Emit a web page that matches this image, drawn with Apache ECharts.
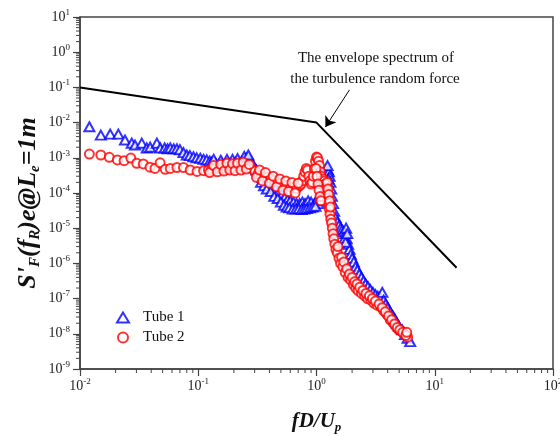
<!DOCTYPE html>
<html>
<head>
<meta charset="utf-8">
<script src="https://cdn.jsdelivr.net/npm/echarts@6/dist/echarts.min.js"></script>
<style>html,body{margin:0;padding:0;background:#fff;}#c{width:560px;height:436px;}</style>
</head>
<body>
<div id="c"></div>
<script>
// ---- data ----
const tube1X = [0.0120,0.0150,0.0180,0.0211,0.0240,0.0274,0.0292,0.0333,0.0367,0.0392,0.0447,0.0477,0.052,0.055,0.058,0.062,0.066,0.070,0.075,0.080,0.085,0.091,0.097,0.104,0.111,0.118,0.125,
  0.13,0.14,0.15,0.16,0.17,0.18,0.19,0.20,0.21,0.22,0.235,0.25,0.26,0.275,0.29,0.31,0.33,0.35,0.37,0.39,0.42,0.45,0.48,0.51,0.54,0.57,0.60,0.64,0.68,0.72,0.76,0.80,0.85,0.90,0.96,1.00,1.04,1.08,1.12,1.16,1.20,1.23,1.25,1.27,1.29,1.31,1.33,1.35,1.38,1.41,1.45,1.50,1.55,1.60,1.65,1.70,1.75,1.78,1.80,1.85,1.90,1.95,2.00,2.07,2.14,2.22,2.30,2.40,2.50,2.60,2.72,2.85,3.00,3.15,3.30,3.45,3.60,3.70,3.85,4.00,4.20,4.40,4.60,4.80,5.00,5.30,5.60,5.90,6.20];
const tube1Y = [7.6e-3,4.4e-3,4.7e-3,4.7e-3,3.2e-3,2.6e-3,2.3e-3,2.6e-3,1.9e-3,2.0e-3,2.6e-3,1.9e-3,1.9e-3,1.8e-3,1.9e-3,1.8e-3,1.8e-3,1.7e-3,1.4e-3,1.2e-3,1.15e-3,1.07e-3,1.0e-3,9.7e-4,9e-4,8.7e-4,8e-4,
  7.5e-4,7e-4,6.5e-4,6.5e-4,6.8e-4,7e-4,6.5e-4,7e-4,7.5e-4,7e-4,8e-4,9e-4,1e-3,8.5e-4,6.5e-4,4.5e-4,3.5e-4,2.8e-4,2.3e-4,2e-4,1.6e-4,1.3e-4,1.1e-4,9e-5,7.5e-5,6.5e-5,6e-5,5.5e-5,5e-5,5e-5,5.5e-5,5e-5,6e-5,5.5e-5,5e-5,6e-5,5e-5,6e-5,8e-5,1.2e-4,2e-4,3.5e-4,4.5e-4,4e-4,3e-4,2e-4,1.3e-4,8e-5,5e-5,3e-5,2e-5,1.5e-5,1.2e-5,1e-5,9e-6,8e-6,7e-6,1e-5,5e-6,3.5e-6,2.5e-6,1.8e-6,1.4e-6,1.1e-6,8e-7,6.5e-7,5e-7,4e-7,3.2e-7,2.6e-7,2.2e-7,1.8e-7,1.5e-7,1.3e-7,1.15e-7,1.1e-7,1.5e-7,9e-8,7e-8,5.5e-8,4.2e-8,3.3e-8,2.6e-8,2e-8,1.6e-8,1.3e-8,9.5e-9,7.5e-9,6e-9];
// second, overlapping run of Tube 1 (scatter of the band)
const tube1bX = [0.135,0.145,0.155,0.165,0.175,0.185,0.195,0.205,0.215,0.23,0.245,0.255,0.265,0.34,0.36,0.38,0.41,0.44,0.47,0.50,0.53,0.56,0.59,0.63,0.67,0.71,0.75,0.79,0.83,0.88,0.93,0.98,1.24,1.26,1.72,1.76,1.82];
const tube1bY = [9e-4,5e-4,8.5e-4,5e-4,9e-4,5.5e-4,9e-4,5.5e-4,9.5e-4,6e-4,1.1e-3,7e-4,1.2e-3,2e-4,1.6e-4,1.3e-4,1.1e-4,8e-5,7e-5,5.5e-5,4.5e-5,4e-5,3.8e-5,3.5e-5,3.5e-5,3.6e-5,3.4e-5,3.5e-5,3.6e-5,3.8e-5,4e-5,4.2e-5,6e-4,2.5e-4,5e-6,4e-6,7e-6];

const tube2X = [0.0120,0.0150,0.0177,0.0207,0.0236,0.0269,0.0302,0.0343,0.0391,0.043,0.0476,0.0525,0.058,0.066,0.075,0.0855,0.0977,0.111,0.122,
  0.13,0.14,0.15,0.16,0.17,0.18,0.19,0.20,0.21,0.22,0.235,0.25,0.265,0.28,0.30,0.32,0.34,0.36,0.385,0.41,0.44,0.47,0.50,0.53,0.56,0.60,0.64,0.68,0.72,0.74,0.76,0.78,0.80,0.82,0.84,0.86,0.88,0.90,0.92,0.94,0.96,0.98,1.00,1.02,1.04,1.06,1.08,1.10,1.12,1.14,1.16,1.18,1.20,1.22,1.24,1.26,1.28,1.30,1.32,1.34,1.36,1.38,1.40,1.43,1.46,1.50,1.55,1.60,1.67,1.75,1.85,1.94,2.05,2.15,2.25,2.40,2.55,2.70,2.88,3.05,3.25,3.50,3.70,3.95,4.20,4.45,4.70,4.95,5.20,5.50,5.90];
const tube2Y = [1.28e-3,1.2e-3,1.03e-3,8.7e-4,8.3e-4,9.8e-4,7e-4,6.7e-4,5.4e-4,5e-4,7.2e-4,4.7e-4,5e-4,5.3e-4,5.3e-4,4.5e-4,4.1e-4,4.3e-4,4.5e-4,
  4.8e-4,5e-4,5.2e-4,5e-4,5.3e-4,5.5e-4,5.2e-4,5.5e-4,5.8e-4,5.5e-4,5.8e-4,6e-4,5.5e-4,5e-4,4.2e-4,3.5e-4,3.2e-4,3e-4,2.8e-4,2.5e-4,2.3e-4,2.1e-4,1.9e-4,1.7e-4,1.6e-4,1.5e-4,1.4e-4,1.35e-4,1.6e-4,1.8e-4,2.2e-4,3e-4,4e-4,5e-4,4.5e-4,3e-4,2.2e-4,1.8e-4,2e-4,3e-4,5e-4,8e-4,1.05e-3,1e-3,8e-4,6e-4,4e-4,3e-4,2.2e-4,2.5e-4,2.2e-4,1.8e-4,1.4e-4,1e-4,7e-5,5e-5,3.5e-5,2.5e-5,1.8e-5,1.4e-5,1e-5,7e-6,5e-6,3.5e-6,2.5e-6,2e-6,1.4e-6,1e-6,8e-7,5.5e-7,4e-7,3.4e-7,2.5e-7,2e-7,1.7e-7,1.4e-7,1.2e-7,1e-7,9e-8,7.5e-8,6.5e-8,5.8e-8,4.5e-8,3.5e-8,2.5e-8,2e-8,1.6e-8,1.3e-8,1.2e-8,1e-8,8e-9];
// second, overlapping run of Tube 2 (scatter of the band)
const tube2bX = [0.125,0.135,0.145,0.155,0.165,0.175,0.185,0.195,0.205,0.215,0.23,0.24,0.255,0.27,0.31,0.33,0.35,0.37,0.40,0.43,0.46,0.49,0.52,0.55,0.58,0.62,0.66,0.70,0.99,1.01,1.03,1.05,1.07,1.09,1.23,1.25,1.27,1.29,1.31,1.52,1.63,1.70,1.80,1.90,2.00,2.10,2.20,2.32,2.47,2.62,2.80,2.97,3.15,3.38,3.60,3.82,4.07,4.32,4.57,4.82,5.07,5.35,5.70,5.80];
const tube2bY = [3.8e-4,6e-4,4e-4,6.5e-4,4.2e-4,7e-4,4.5e-4,6.8e-4,4.3e-4,7e-4,4.5e-4,7.5e-4,4.8e-4,6.5e-4,2.8e-4,4.5e-4,2.2e-4,3.8e-4,1.9e-4,3e-4,1.5e-4,2.5e-4,1.2e-4,2.2e-4,1.1e-4,2e-4,1e-4,1.9e-4,5e-4,3e-4,1.8e-4,1.2e-4,8e-5,6e-5,2e-4,1.3e-4,9e-5,6e-5,4e-5,3e-6,1.5e-6,1.1e-6,7e-7,5e-7,4e-7,3e-7,2.6e-7,2.1e-7,1.7e-7,1.4e-7,1.2e-7,1e-7,8.5e-8,7e-8,5.5e-8,4.2e-8,3.2e-8,2.5e-8,1.9e-8,1.5e-8,1.3e-8,1.1e-8,9e-9,1.1e-8];

const envelopeX = [0.01, 1.0, 15.3];
const envelopeY = [0.1, 0.01, 7.5e-7];
const arrowFrom = [1.9, 0.085];
const arrowTo = [1.19, 0.0075];

const seriesNames = ['Tube 1', 'Tube 2'];
const annotationLines = ['The envelope spectrum of', 'the turbulence random force'];
const xMin = 1e-2, xMax = 1e2, yMin = 1e-9, yMax = 1e1;

// ---- build ----
const zip = (a, b) => a.map((v, i) => [v, b[i]]);
const serif = '"Liberation Serif","Times New Roman",serif';

const minorData = [];
for (let k = -2; k <= 1; k++) for (let m = 2; m <= 9; m++) minorData.push([m * Math.pow(10, k), yMin, 0]);
for (let k = -9; k <= 0; k++) for (let m = 2; m <= 9; m++) minorData.push([xMin, m * Math.pow(10, k), 1]);

const labelFmt = v => {
  const e = Math.round(Math.log10(v));
  return '{b|10}{s|' + e + '}';
};
const labelRich = {
  b: { fontFamily: serif, fontSize: 14, color: '#222' },
  s: { fontFamily: serif, fontSize: 9, color: '#222', padding: [0, 0, 9, 0] }
};
const axisColor = '#444';
const titleFont = { fontFamily: serif, fontWeight: 'bold', fontStyle: 'italic', fill: '#111' };

const chart = echarts.init(document.getElementById('c'), null, { renderer: 'canvas' });
chart.setOption({
  animation: false,
  backgroundColor: '#fff',
  grid: { left: 80, right: 7, top: 17, bottom: 67, outerBoundsMode: 'none', containLabel: false, show: true, borderColor: axisColor, borderWidth: 1.5, backgroundColor: 'transparent' },
  xAxis: {
    type: 'log', min: xMin, max: xMax, logBase: 10, splitNumber: 4,
    axisLine: { show: true, lineStyle: { color: axisColor, width: 1.5 } },
    axisTick: { show: true, length: 7, lineStyle: { color: axisColor, width: 1.2 } },
    splitLine: { show: false },
    axisLabel: { formatter: labelFmt, rich: labelRich, margin: 8, showMinLabel: true, showMaxLabel: true },
    name: '{t|fD/U}{p|p}', nameLocation: 'middle', nameGap: 40,
    nameTextStyle: {
      rich: {
        t: { fontFamily: serif, fontSize: 21, fontWeight: 'bold', fontStyle: 'italic', color: '#111' },
        p: { fontFamily: serif, fontSize: 13, fontWeight: 'bold', fontStyle: 'italic', color: '#111', padding: [12, 0, 0, 0] }
      }
    }
  },
  yAxis: {
    type: 'log', min: yMin, max: yMax, logBase: 10, splitNumber: 10,
    axisLine: { show: true, lineStyle: { color: axisColor, width: 1.5 } },
    axisTick: { show: true, length: 7, lineStyle: { color: axisColor, width: 1.2 } },
    splitLine: { show: false },
    axisLabel: { formatter: labelFmt, rich: labelRich, margin: 10, showMinLabel: true, showMaxLabel: true }
  },
  legend: {
    orient: 'vertical', left: 116, top: 310, padding: 0, itemGap: 5, itemWidth: 12, itemHeight: 10,
    data: seriesNames,
    textStyle: { fontFamily: serif, fontSize: 15, color: '#111', padding: [0, 0, 0, 9] }
  },
  graphic: [
    { type: 'text', x: 376, y: 58, style: { text: annotationLines[0], font: '15px ' + serif, fill: '#111', align: 'center', verticalAlign: 'middle' } },
    { type: 'text', x: 375, y: 79, style: { text: annotationLines[1], font: '15px ' + serif, fill: '#111', align: 'center', verticalAlign: 'middle' } },
    {
      type: 'text', x: 28, y: 203, rotation: Math.PI / 2,
      style: {
        text: "{m|S'}{u|F}{m|(f}{u|R}{m|)e@L}{u|e}{m|=1m}",
        align: 'center', verticalAlign: 'middle',
        rich: {
          m: Object.assign({ fontSize: 26 }, titleFont),
          u: Object.assign({ fontSize: 15, padding: [14, 0, 0, 0] }, titleFont)
        }
      }
    }
  ],
  series: [
    {
      name: 'minor', type: 'custom', silent: true, clip: false, z: 1,
      data: minorData,
      renderItem: (params, api) => {
        const p = api.coord([api.value(0), api.value(1)]);
        const vertical = api.value(2) === 0;
        return {
          type: 'line',
          shape: vertical ? { x1: p[0], y1: p[1], x2: p[0], y2: p[1] + 4 } : { x1: p[0], y1: p[1], x2: p[0] - 4, y2: p[1] },
          style: { stroke: axisColor, lineWidth: 1 }
        };
      }
    },
    {
      name: 'envelope', type: 'line', data: zip(envelopeX, envelopeY), showSymbol: false, symbol: 'none',
      lineStyle: { color: '#000', width: 2 }, z: 3,
      markLine: {
        silent: true, symbol: ['none', 'arrow'], symbolSize: 10,
        label: { show: false },
        lineStyle: { color: '#000', width: 1, type: 'solid' },
        data: [[{ coord: arrowFrom }, { coord: arrowTo }]]
      }
    },
    {
      name: seriesNames[0], type: 'scatter', data: zip(tube1X, tube1Y).concat(zip(tube1bX, tube1bY)),
      symbol: 'emptyTriangle', symbolSize: [10, 9],
      itemStyle: { color: '#0000ff', borderColor: '#0000ff', borderWidth: 1.2 }, z: 4
    },
    {
      name: seriesNames[1], type: 'scatter', data: zip(tube2X, tube2Y).concat(zip(tube2bX, tube2bY)),
      symbol: 'emptyCircle', symbolSize: 9,
      itemStyle: { color: '#ff0000', borderColor: '#ff0000', borderWidth: 1.2 }, z: 5
    }
  ]
});
</script>
</body>
</html>
